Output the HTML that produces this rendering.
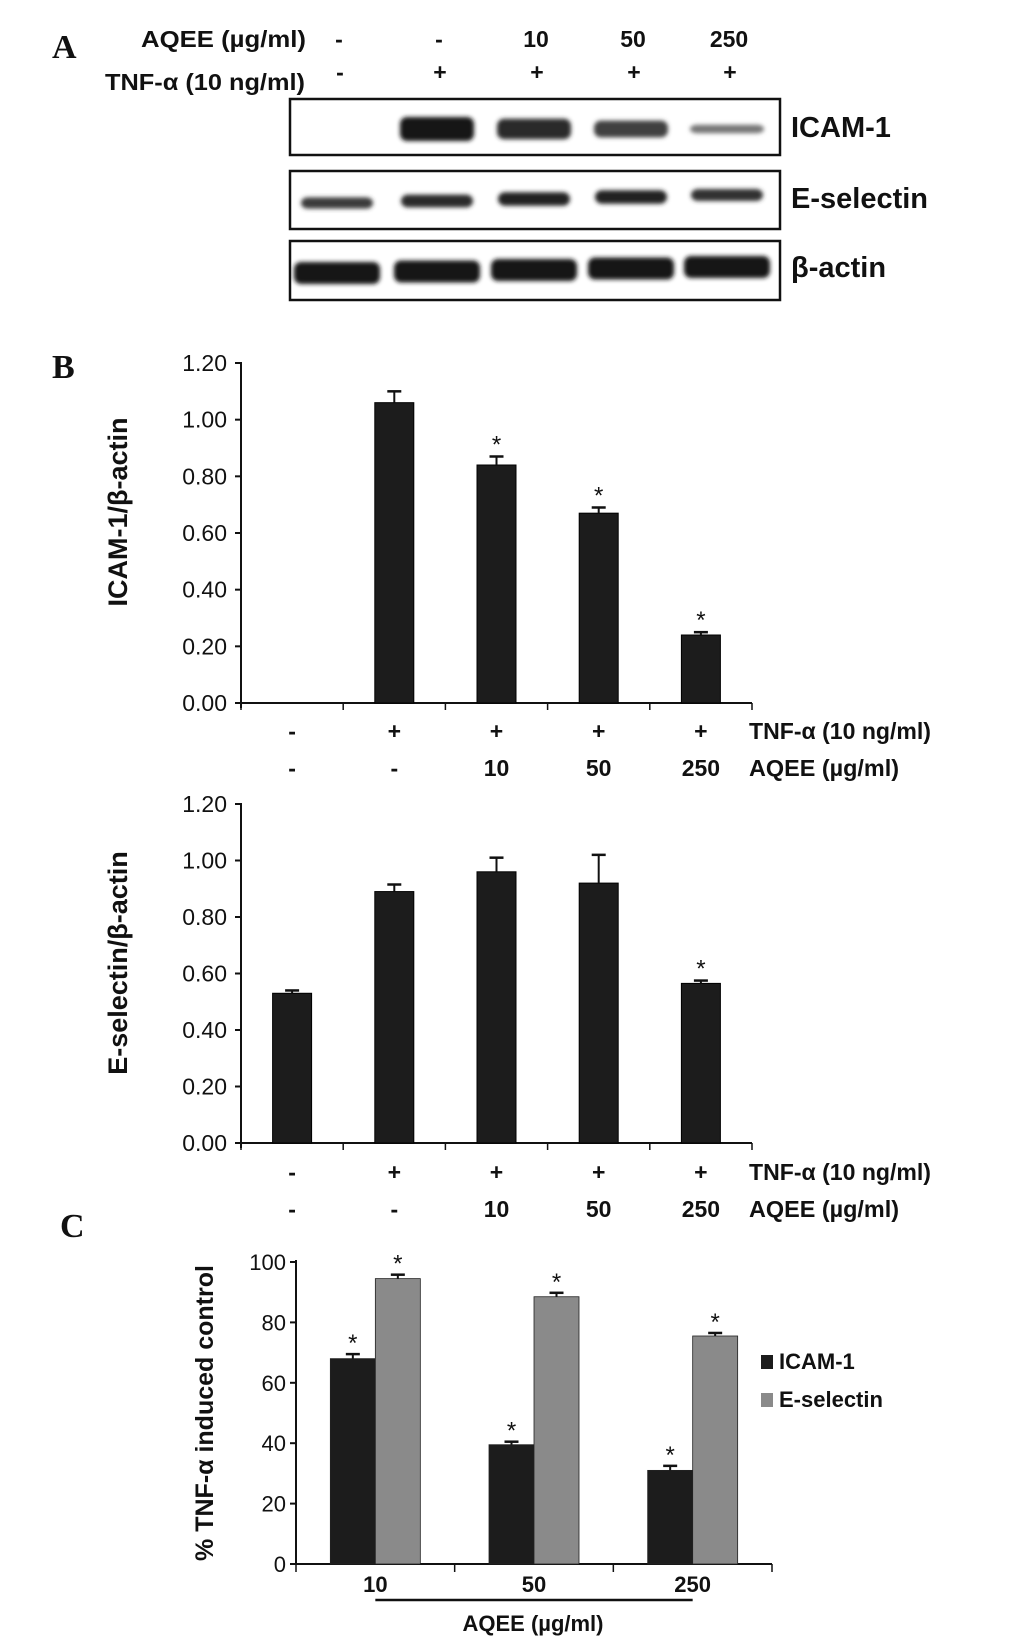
<!DOCTYPE html>
<html><head><meta charset="utf-8"><style>
html,body{margin:0;padding:0;background:#fff}
svg{display:block}
text{font-family:"Liberation Sans",Arial,sans-serif;fill:#111}
.t{font-size:22px}
.r{font-size:23px}
.b{font-weight:bold}
.L{font-family:"Liberation Serif",serif;font-weight:bold;font-size:34px}
</style></head><body>
<svg id="fig" width="1033" height="1643" viewBox="0 0 1033 1643" xmlns="http://www.w3.org/2000/svg">
<defs><filter id="bl" x="-20%" y="-50%" width="140%" height="200%"><feGaussianBlur stdDeviation="2.2"/></filter></defs>
<g id="panelA">
<text class="L" x="52" y="58">A</text>
<text class="b" font-size="23" x="141" y="47" textLength="165" lengthAdjust="spacingAndGlyphs">AQEE (µg/ml)</text>
<text class="b" font-size="23" x="105" y="90" textLength="200" lengthAdjust="spacingAndGlyphs">TNF-α (10 ng/ml)</text>
<g id="blotHead"></g>
<rect x="290" y="99" width="490" height="56" fill="none" stroke="#111" stroke-width="2.5"/>
<rect x="290" y="171" width="490" height="58" fill="none" stroke="#111" stroke-width="2.5"/>
<rect x="290" y="241" width="490" height="59" fill="none" stroke="#111" stroke-width="2.5"/>
<text x="791" y="137" font-size="29" class="b">ICAM-1</text>
<text x="791" y="208" font-size="29" class="b">E-selectin</text>
<text x="791" y="277" font-size="29" class="b">β-actin</text>
<g id="bands" filter="url(#bl)"></g>
</g>
<text class="L" x="52" y="378">B</text>
<g id="b1"></g><g id="b2"></g>
<text class="L" x="60" y="1237">C</text>
<g id="c1"></g>
</svg>
<script>
const NS="http://www.w3.org/2000/svg";
function mk(p,tag,a,txt){const e=document.createElementNS(NS,tag);for(const k in a)e.setAttribute(k,a[k]);if(txt!==undefined)e.textContent=txt;p.appendChild(e);return e;}

// ---- Panel A data ----
const laneAqee=["-","-","10","50","250"];
const laneTnf=["-","+","+","+","+"];
const icamBand=[0,1.0,0.85,0.7,0.35];
const eselBand=[0.75,0.85,0.9,0.9,0.8];
const actinBand=[1,1,1,1,1];
const laneX=[337,437,534,631,727];
const hd=document.getElementById('blotHead');
laneAqee.forEach((v,i)=>{const t=mk(hd,'text',{x:laneX[i]+2,y:47,'text-anchor':'middle',class:'r b'},v);

});
laneTnf.forEach((v,i)=>{const t=mk(hd,'text',{x:laneX[i]+3,y:80,'text-anchor':'middle',class:'r b'},v);

});
const bd=document.getElementById('bands');
function band(arr,cy,h,w,dy,name){arr.forEach((v,i)=>{if(v<=0)return;
const g=Math.round(20+(1-v)*150);
const r=mk(bd,'rect',{x:laneX[i]-w/2,y:cy-i*dy-h*v/2,width:w,height:Math.max(6,h*v),rx:7,fill:`rgb(${g},${g},${g})`});

});}
band(icamBand,129,24,74,0,'icam');
band(eselBand,203,15,72,2,'eselectin');
band(actinBand,273,22,86,1.5,'actin');

// ---- Panel B data ----
const catTnf=["-","+","+","+","+"];
const catAqee=["-","-","10","50","250"];
const bTicks=[0,0.2,0.4,0.6,0.8,1.0,1.2];
const icamVals=[0,1.06,0.84,0.67,0.24];
const icamErr=[0,0.04,0.03,0.02,0.01];
const icamSig=[false,false,true,true,true];
const eselVals=[0.53,0.89,0.96,0.92,0.565];
const eselErr=[0.01,0.025,0.05,0.10,0.01];
const eselSig=[false,false,false,false,true];

function barChart(gid,name,ylab,y0,y1,vals,errs,sig,rowY,labCy){
 const g=document.getElementById(gid);
 const x0=241,x1=752,n=vals.length,cw=(x1-x0)/n,bw=39;
 const ys=v=>y0+(y1-y0)*(v/1.2);
 mk(g,'line',{x1:x0,y1:y1-1,x2:x0,y2:y0+5,stroke:'#111','stroke-width':2});
 mk(g,'line',{x1:x0,y1:y0,x2:x1,y2:y0,stroke:'#111','stroke-width':2});
 bTicks.forEach(t=>{const y=ys(t);
  mk(g,'line',{x1:x0-6,y1:y,x2:x0,y2:y,stroke:'#111','stroke-width':2});
  const tx=mk(g,'text',{x:x0-14,y:y+8,'text-anchor':'end',class:'r'},t.toFixed(2));
  
  });
 for(let i=0;i<=n;i++)mk(g,'line',{x1:x0+i*cw,y1:y0,x2:x0+i*cw,y2:y0+7,stroke:'#111','stroke-width':1.5});
 vals.forEach((v,i)=>{const cx=x0+cw*(i+0.5);
  if(v>0){const r=mk(g,'rect',{x:cx-bw/2,y:ys(v),width:bw,height:y0-ys(v),fill:'#1c1c1c',stroke:'#000','stroke-width':1});
  
  
  const ey=ys(v+errs[i]);
  mk(g,'line',{x1:cx,y1:ys(v),x2:cx,y2:ey,stroke:'#111','stroke-width':2});
  mk(g,'line',{x1:cx-7,y1:ey,x2:cx+7,y2:ey,stroke:'#111','stroke-width':2.5});
  if(sig[i]){const s=mk(g,'text',{x:cx,y:ey-4,'text-anchor':'middle','font-size':24},'*');
   
   }}
  const a=mk(g,'text',{x:cx,y:rowY,'text-anchor':'middle',class:'r b'},catTnf[i]);
  
  
  const b=mk(g,'text',{x:cx,y:rowY+37,'text-anchor':'middle',class:'r b'},catAqee[i]);
  
  });
 const l1=mk(g,'text',{x:749,y:rowY,class:'r b',textLength:182,lengthAdjust:'spacingAndGlyphs'},'TNF-α (10 ng/ml)');
 
 
 const l2=mk(g,'text',{x:749,y:rowY+37,class:'r b',textLength:150,lengthAdjust:'spacingAndGlyphs'},'AQEE (µg/ml)');
 
 
 const yl=mk(g,'text',{x:0,y:0,'text-anchor':'middle','font-size':27,class:'b',transform:`translate(127,${labCy}) rotate(-90)`},ylab);
 
 
}
barChart('b1','icam-chart','ICAM-1/β-actin',703,363,icamVals,icamErr,icamSig,739,512);
barChart('b2','eselectin-chart','E-selectin/β-actin',1143,804,eselVals,eselErr,eselSig,1180,963);

// ---- Panel C data ----
const cCats=["10","50","250"];
const cTicks=[0,20,40,60,80,100];
const cIcam=[68,39.5,31];
const cIcamErr=[1.5,1,1.5];
const cEsel=[94.5,88.5,75.5];
const cEselErr=[1.3,1.3,1];
(function(){
 const g=document.getElementById('c1');
 const x0=296,x1=772,y0=1564,y1=1262,n=cCats.length,gw=(x1-x0)/n,bw=45;
 const ys=v=>y0-(y0-y1)*v/100;
 mk(g,'line',{x1:x0,y1:y1-2,x2:x0,y2:y0,stroke:'#111','stroke-width':2});
 mk(g,'line',{x1:x0,y1:y0,x2:x1,y2:y0,stroke:'#111','stroke-width':2});
 cTicks.forEach(t=>{const y=ys(t);
  mk(g,'line',{x1:x0-6,y1:y,x2:x0,y2:y,stroke:'#111','stroke-width':2});
  const tx=mk(g,'text',{x:x0-10,y:y+8,'text-anchor':'end',class:'t'},String(t));
  
  });
 for(let i=0;i<=n;i++)mk(g,'line',{x1:x0+i*gw,y1:y0,x2:x0+i*gw,y2:y0+8,stroke:'#111','stroke-width':1.5});
 function bar(v,e,x,fill,nm){const r=mk(g,'rect',{x:x,y:ys(v),width:bw,height:y0-ys(v),fill:fill,stroke:'#222','stroke-width':0.8});
  
  
  const cx=x+bw/2,ey=ys(v+e);
  mk(g,'line',{x1:cx,y1:ys(v),x2:cx,y2:ey,stroke:'#111','stroke-width':2});
  mk(g,'line',{x1:cx-7,y1:ey,x2:cx+7,y2:ey,stroke:'#111','stroke-width':2.5});
  const s=mk(g,'text',{x:cx,y:ey-3,'text-anchor':'middle','font-size':24},'*');
  
  }
 cCats.forEach((c,i)=>{const gx=x0+i*gw,cx=gx+gw/2;
  bar(cIcam[i],cIcamErr[i],cx-bw,'#1c1c1c','c-icam-bar-'+c);
  bar(cEsel[i],cEselErr[i],cx,'#8a8a8a','c-eselectin-bar-'+c);
  const t=mk(g,'text',{x:cx,y:y0+28,'text-anchor':'middle',class:'t b'},c);
  
  });
 mk(g,'line',{x1:x0+gw/2,y1:1600,x2:x0+2.5*gw,y2:1600,stroke:'#111','stroke-width':2.5});
 const xl=mk(g,'text',{x:533,y:1631,'text-anchor':'middle',class:'t b'},'AQEE (µg/ml)');
 
 
 const yl=mk(g,'text',{x:0,y:0,'text-anchor':'middle','font-size':25,class:'b',transform:'translate(213,1413) rotate(-90)'},'% TNF-α induced control');
 
 
 [['ICAM-1','#1c1c1c',1362],['E-selectin','#8a8a8a',1400]].forEach(([t,f,y])=>{
  const r=mk(g,'rect',{x:761,y:y-7,width:12,height:14,fill:f});
  
  
  const tx=mk(g,'text',{x:779,y:y+7,class:'t b'},t);
  
  });
})();
</script>
</body></html>
